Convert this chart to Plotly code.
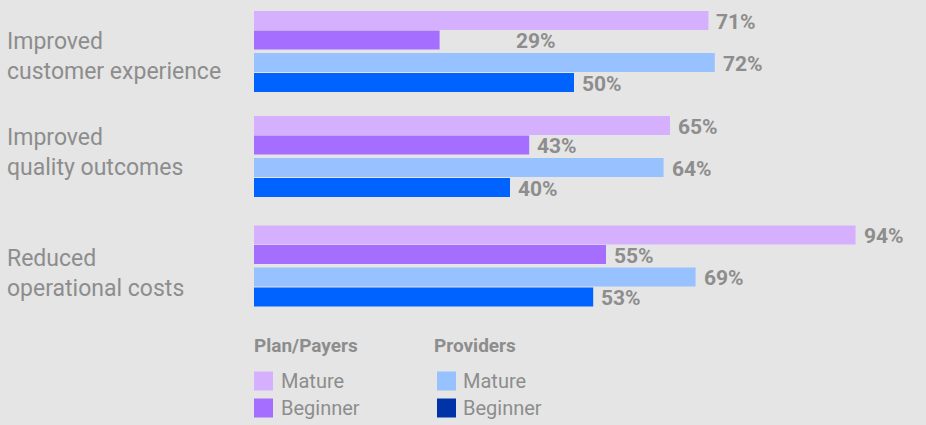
import plotly.graph_objects as go

categories = ["Improved<br>customer experience", "Improved<br>quality outcomes", "Reduced<br>operational costs"]
plan_mature = [71, 65, 94]
plan_beginner = [29, 43, 55]
prov_mature = [72, 64, 69]
prov_beginner = [50, 40, 53]

series = [
    ("Plan/Payers Mature", plan_mature, "#d4b0ff", -31),
    ("Plan/Payers Beginner", plan_beginner, "#a56eff", -11.5),
    ("Providers Mature", prov_mature, "#97c1ff", 11),
    ("Providers Beginner", prov_beginner, "#0062ff", 31),
]

# layout constants (pixel-like vertical units)
group_centers = [51.5, 156.5, 266]
label_centers = [56, 152.5, 273.5]
label_shift = {(0, 1): 68}  # the 29% label sits further right in the reference

W, H = 926, 425
L, R = 254, 32
PW = W - L - R
GRAY = "#8d8d8d"
FONT = "Roboto"


def px(x):
    return (x - L) / PW


fig = go.Figure()
annotations = []
for si, (name, vals, color, off) in enumerate(series):
    ys = [c + off for c in group_centers]
    fig.add_trace(go.Bar(
        x=vals, y=ys, orientation="h", width=19, name=name,
        marker=dict(color=color, line=dict(width=0)),
        hoverinfo="x+name", showlegend=False,
    ))
    for gi, (v, y) in enumerate(zip(vals, ys)):
        annotations.append(dict(
            x=v, y=y + 1, xref="x", yref="y", text=f"<b>{v}%</b>",
            showarrow=False, xanchor="left", yanchor="middle",
            xshift=6 + label_shift.get((gi, si), 0),
            font=dict(family=FONT, size=21, color=GRAY),
        ))

for cat, yc in zip(categories, label_centers):
    annotations.append(dict(
        x=px(5), y=yc, xref="paper", yref="y", text=cat, showarrow=False,
        xanchor="left", yanchor="middle", align="left",
        font=dict(family=FONT, size=23, color=GRAY),
    ))

# legend built manually
legend_groups = [
    ("Plan/Payers", 252, 279, 254, [("Mature", "#d4b0ff"), ("Beginner", "#a56eff")]),
    ("Providers", 432, 461, 437, [("Mature", "#97c1ff"), ("Beginner", "#0033a8")]),
]
shapes = []
row_y = [381, 408]
for title, x0, tx, sx0, items in legend_groups:
    annotations.append(dict(
        x=px(x0), y=345, xref="paper", yref="y", text=f"<b>{title}</b>",
        showarrow=False, xanchor="left", yanchor="middle",
        font=dict(family=FONT, size=19, color=GRAY),
    ))
    for (lab, col), ry in zip(items, row_y):
        shapes.append(dict(
            type="rect", xref="paper", yref="y",
            x0=px(sx0), x1=px(sx0 + 19), y0=ry - 9.5, y1=ry + 9.5,
            fillcolor=col, line=dict(width=0),
        ))
        annotations.append(dict(
            x=px(tx), y=ry, xref="paper", yref="y", text=lab,
            showarrow=False, xanchor="left", yanchor="middle",
            font=dict(family=FONT, size=20, color=GRAY),
        ))

fig.update_layout(
    width=W, height=H,
    margin=dict(l=L, r=R, t=0, b=0),
    paper_bgcolor="#e5e5e5", plot_bgcolor="#e5e5e5",
    barmode="overlay",
    xaxis=dict(range=[0, 100], visible=False, fixedrange=True),
    yaxis=dict(range=[H, 0], visible=False, fixedrange=True),
    annotations=annotations, shapes=shapes,
    showlegend=False,
)

fig.write_html(
    "out.html",
    config={"displayModeBar": False},
    post_script="document.body.style.margin='0';document.body.style.padding='0';",
)
